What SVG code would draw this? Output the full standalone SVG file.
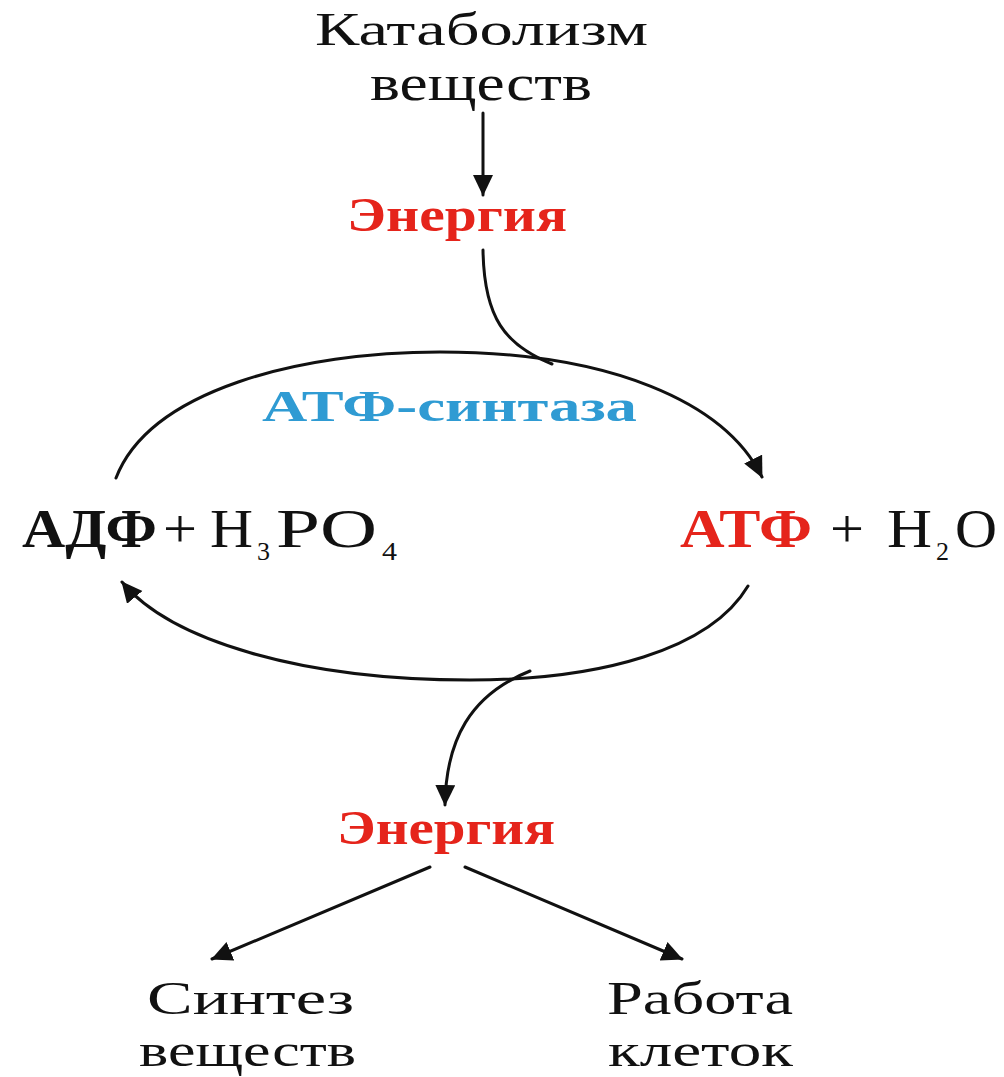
<svg xmlns="http://www.w3.org/2000/svg" width="1004" height="1077" viewBox="0 0 1004 1077">
<style>
.t{font-family:"Liberation Serif","Times New Roman",serif;fill:#111}
.b{font-weight:bold}
.red{fill:#e5241b}
.blue{fill:#2f9bd3}
.ln{fill:none;stroke:#111;stroke-width:3;stroke-linecap:round}
</style>
<defs>
<marker id="ah" markerUnits="userSpaceOnUse" markerWidth="24" markerHeight="22" refX="20" refY="10" orient="auto">
<path d="M0,0 L21,10 L0,20 Z" fill="#111"/>
</marker>
</defs>
<rect width="1004" height="1077" fill="#fff"/>
<g id="catabolism">
<text class="t" x="315" y="45" font-size="46" textLength="333" lengthAdjust="spacingAndGlyphs">Катаболизм</text>
<text class="t" x="370" y="100" font-size="50" textLength="222" lengthAdjust="spacingAndGlyphs">веществ</text>
</g>
<g id="energy1">
<text class="t b red" x="347" y="231" font-size="48" textLength="220" lengthAdjust="spacingAndGlyphs">Энергия</text>
</g>
<g id="atp-synthase">
<text class="t b blue" x="262" y="421" font-size="44" textLength="375" lengthAdjust="spacingAndGlyphs">АТФ-синтаза</text>
</g>
<g id="adp">
<text class="t b" x="22" y="547" font-size="54" textLength="135" lengthAdjust="spacingAndGlyphs">АДФ</text>
<text class="t" x="163" y="547" font-size="54" textLength="34" lengthAdjust="spacingAndGlyphs">+</text>
<text class="t" x="210" y="547" font-size="54" textLength="43" lengthAdjust="spacingAndGlyphs">H</text>
<text class="t" x="257" y="560" font-size="26" textLength="13" lengthAdjust="spacingAndGlyphs">3</text>
<text class="t" x="276" y="547" font-size="54" textLength="101" lengthAdjust="spacingAndGlyphs">PO</text>
<text class="t" x="382" y="560" font-size="26" textLength="15" lengthAdjust="spacingAndGlyphs">4</text>
</g>
<g id="atp">
<text class="t b red" x="680" y="547" font-size="54" textLength="132" lengthAdjust="spacingAndGlyphs">АТФ</text>
<text class="t" x="830" y="547" font-size="54" textLength="34" lengthAdjust="spacingAndGlyphs">+</text>
<text class="t" x="887" y="547" font-size="54" textLength="45" lengthAdjust="spacingAndGlyphs">H</text>
<text class="t" x="936" y="560" font-size="26" textLength="13" lengthAdjust="spacingAndGlyphs">2</text>
<text class="t" x="955" y="547" font-size="54" textLength="42" lengthAdjust="spacingAndGlyphs">O</text>
</g>
<g id="energy2">
<text class="t b red" x="337" y="844" font-size="48" textLength="218" lengthAdjust="spacingAndGlyphs">Энергия</text>
</g>
<g id="synthesis">
<text class="t" x="147" y="1014" font-size="46" textLength="207" lengthAdjust="spacingAndGlyphs">Синтез</text>
<text class="t" x="139" y="1066" font-size="46" textLength="217" lengthAdjust="spacingAndGlyphs">веществ</text>
</g>
<g id="work">
<text class="t" x="607" y="1014" font-size="46" textLength="186" lengthAdjust="spacingAndGlyphs">Работа</text>
<text class="t" x="608" y="1066" font-size="46" textLength="185" lengthAdjust="spacingAndGlyphs">клеток</text>
</g>
<g id="connectors">
<line class="ln" x1="483" y1="113" x2="483" y2="195" marker-end="url(#ah)"/>
<path class="ln" d="M483,250 C484,318 505,345 552,364"/>
<path class="ln" d="M116,478 C150,390 300,352 440,352 C610,352 725,402 762,477" marker-end="url(#ah)"/>
<path class="ln" d="M748,586 C710,650 600,680 470,680 C300,680 170,640 122,582" marker-end="url(#ah)"/>
<path class="ln" d="M530,671 C470,695 446,740 445,805" marker-end="url(#ah)"/>
<line class="ln" x1="430" y1="867" x2="212" y2="959" marker-end="url(#ah)"/>
<line class="ln" x1="465" y1="867" x2="682" y2="959" marker-end="url(#ah)"/>
</g>
</svg>
